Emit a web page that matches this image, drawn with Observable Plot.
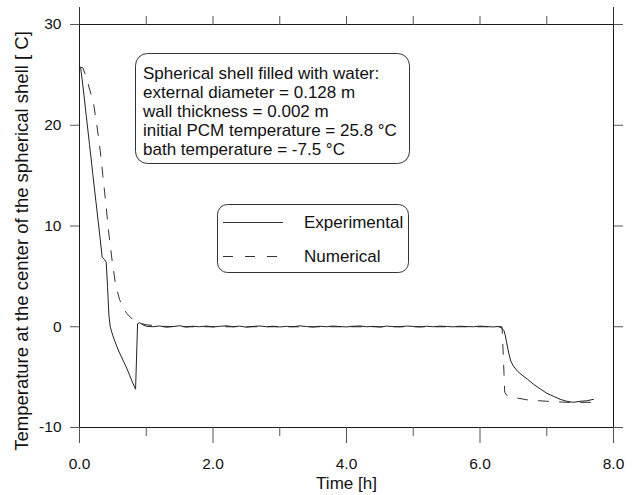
<!DOCTYPE html>
<html>
<head>
<meta charset="utf-8">
<script src="https://cdn.jsdelivr.net/npm/d3@7"></script>
<script src="https://cdn.jsdelivr.net/npm/@observablehq/plot@0.6"></script>
<style>
  html, body { margin: 0; padding: 0; background: white; }
  svg { display: block; }
</style>
</head>
<body>
<div id="chart"></div>
<script>
// ---- data ----
const expTime = [0.00, 0.02, 0.06, 0.10, 0.15, 0.20, 0.25, 0.30, 0.34, 0.37, 0.40, 0.42, 0.44, 0.46, 0.50, 0.55, 0.60, 0.65, 0.70, 0.75, 0.80, 0.84, 0.855, 0.87, 0.90, 0.95, 1.00,
  1.10, 1.20, 1.30, 1.40, 1.50, 1.60, 1.70, 1.80, 1.90, 2.00, 2.10, 2.20, 2.30, 2.40, 2.50, 2.60, 2.70, 2.80, 2.90, 3.00,
  3.10, 3.20, 3.30, 3.40, 3.50, 3.60, 3.70, 3.80, 3.90, 4.00, 4.10, 4.20, 4.30, 4.40, 4.50, 4.60, 4.70, 4.80, 4.90, 5.00,
  5.10, 5.20, 5.30, 5.40, 5.50, 5.60, 5.70, 5.80, 5.90, 6.00, 6.10, 6.20, 6.28, 6.33,
  6.36, 6.38, 6.40, 6.43, 6.46, 6.50, 6.56, 6.63, 6.71, 6.80, 6.91, 7.00, 7.10, 7.20, 7.30, 7.40, 7.50, 7.60, 7.70];
const expTemp = [25.8, 25.6, 23.4, 21.0, 18.1, 15.1, 12.2, 9.3, 6.9, 6.7, 6.4, 4.0, 1.2, 0.0, -0.9, -1.8, -2.6, -3.3, -4.0, -4.8, -5.6, -6.2, -3.0, 0.3, 0.4, 0.2, 0.05,
  0.0, 0.08, -0.05, 0.02, 0.1, -0.03, 0.05, 0.0, 0.07, -0.02, 0.04, 0.1, 0.0, 0.06, -0.04, 0.03, 0.08, 0.0, 0.05, -0.02,
  0.04, 0.0, 0.09, 0.02, -0.03, 0.05, 0.0, 0.07, 0.02, -0.02, 0.05, 0.08, 0.0, 0.04, -0.03, 0.06, 0.02, 0.0, 0.07, 0.03,
  -0.02, 0.05, 0.0, 0.06, 0.03, -0.01, 0.05, 0.02, 0.0, 0.06, 0.02, -0.02, 0.03, -0.15,
  -0.4, -0.9, -1.6, -2.6, -3.4, -3.9, -4.4, -4.8, -5.2, -5.7, -6.2, -6.6, -6.9, -7.2, -7.4, -7.5, -7.4, -7.35, -7.2];

const numTime = [0.00, 0.05, 0.10, 0.15, 0.21, 0.26, 0.31, 0.35, 0.39, 0.44, 0.49, 0.54, 0.60, 0.66, 0.71, 0.80, 0.90, 1.00, 1.20, 1.50,
  2.00, 3.00, 4.00, 5.00, 6.00, 6.33, 6.35, 6.37, 6.40, 6.50, 6.70, 7.00, 7.30, 7.75];
const numTemp = [25.8, 25.7, 24.8, 23.6, 22.2, 20.0, 17.5, 15.0, 12.5, 9.2, 6.5, 4.2, 2.7, 1.8, 1.3, 0.7, 0.35, 0.2, 0.05, 0.0,
  0.0, 0.0, 0.0, 0.0, 0.0, 0.0, -3.0, -6.5, -6.8, -7.0, -7.25, -7.4, -7.5, -7.5];

const xMajorTicks = [0, 2, 4, 6, 8];
const xMinorTicks = [1, 3, 5, 7];
const yTicks = [-10, 0, 10, 20, 30];
const xLabel = "Time [h]";
const yLabel = "Temperature at the center of the spherical shell [ C]";
const seriesNames = ["Experimental", "Numerical"];
const infoLines = [
  "Spherical shell filled with water:",
  "external diameter = 0.128 m",
  "wall thickness = 0.002 m",
  "initial PCM temperature = 25.8 °C",
  "bath temperature = -7.5 °C"
];

const expData = expTime.map((t, i) => ({t, T: expTemp[i]}));
const numData = numTime.map((t, i) => ({t, T: numTemp[i]}));

const font = "'Liberation Sans', Arial, Helvetica, sans-serif";
const tickFmt = d => d.toFixed(1);
const blank = () => "";

const chart = Plot.plot({
  width: 636,
  height: 495,
  marginLeft: 79,
  marginRight: 23,
  marginTop: 24,
  marginBottom: 68,
  x: {domain: [0, 8]},
  y: {domain: [-10, 30]},
  style: {fontFamily: font, fontSize: "15.5px", background: "white", color: "#111"},
  marks: [
    Plot.frame({stroke: "#1a1a1a", strokeWidth: 1}),
    Plot.axisY({anchor: "left", ticks: yTicks, tickSize: 9, tickPadding: 9, tickFormat: d => String(d), label: null, stroke: "#555", fontSize: 15.5}),
    Plot.axisY({anchor: "right", ticks: yTicks, tickSize: 9, tickFormat: blank, label: null, stroke: "#555"}),
    Plot.axisX({anchor: "bottom", ticks: xMajorTicks, tickSize: 16, tickPadding: 14, tickFormat: tickFmt, label: null, stroke: "#555", fontSize: 15.5}),
    Plot.axisX({anchor: "bottom", ticks: xMinorTicks, tickSize: 9, tickFormat: blank, label: null, stroke: "#555"}),
    Plot.axisX({anchor: "top", ticks: [xMajorTicks[0], xMajorTicks[xMajorTicks.length - 1]], tickSize: 18, tickFormat: blank, label: null, stroke: "#333"}),
    Plot.axisX({anchor: "top", ticks: d3.range(1, 8), tickSize: 9, tickFormat: blank, label: null, stroke: "#555"}),
    Plot.text([xLabel], {frameAnchor: "bottom", lineAnchor: "middle", dy: 56, fontSize: 17, fill: "#111"}),
    Plot.text([yLabel], {frameAnchor: "left", textAnchor: "middle", lineAnchor: "middle", dx: -57, dy: 15, rotate: -90, fontSize: 18.5, fill: "#111"}),
    Plot.line(numData, {x: "t", y: "T", stroke: "#333", strokeWidth: 1, strokeDasharray: "10,11"}),
    Plot.line(expData, {x: "t", y: "T", stroke: "#222", strokeWidth: 1})
  ]
});

// ---- annotation boxes (layout) ----
const svg = d3.select(chart);
const info = svg.append("g").attr("font-family", font).attr("font-size", 17).attr("fill", "#111").attr("text-anchor", "start");
info.append("rect").attr("x", 135.5).attr("y", 53.5).attr("width", 274).attr("height", 110).attr("rx", 12)
  .attr("fill", "white").attr("stroke", "#333").attr("stroke-width", 1);
infoLines.forEach((s, i) => {
  info.append("text").attr("x", 143).attr("y", 79 + i * 19).attr("text-anchor", "start").text(s);
});

const leg = svg.append("g").attr("font-family", font).attr("font-size", 17).attr("fill", "#111").attr("text-anchor", "start");
leg.append("rect").attr("x", 217.5).attr("y", 204.5).attr("width", 191).attr("height", 68).attr("rx", 10)
  .attr("fill", "white").attr("stroke", "#333").attr("stroke-width", 1);
seriesNames.forEach((s, i) => {
  const y = i === 0 ? 222.5 : 256.5;
  leg.append("line").attr("x1", 223).attr("x2", 283).attr("y1", y).attr("y2", y)
    .attr("stroke", "#333").attr("stroke-width", 1)
    .attr("stroke-dasharray", i === 0 ? null : "10,12");
  leg.append("text").attr("x", 304).attr("y", y + 5.5).attr("text-anchor", "start").text(s);
});

document.getElementById("chart").appendChild(chart);
</script>
</body>
</html>
